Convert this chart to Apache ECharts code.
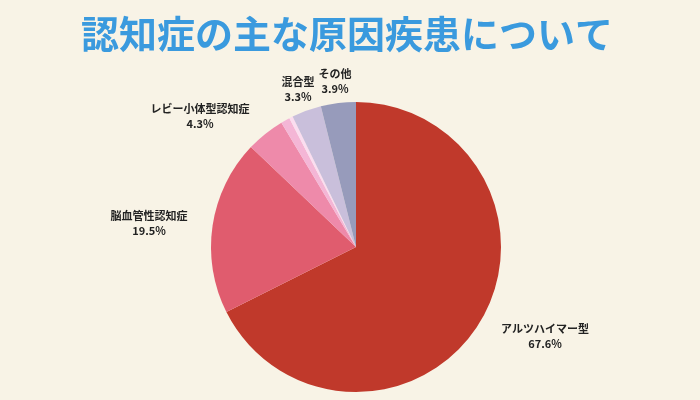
<!DOCTYPE html>
<html>
<head>
<meta charset="utf-8">
<script src="https://cdn.jsdelivr.net/npm/echarts@6/dist/echarts.min.js"></script>
<style>
  html, body { margin: 0; padding: 0; background: #f8f3e6; }
  #chart { width: 700px; height: 400px; }
</style>
</head>
<body>
<div id="chart"></div>
<script>
const categories = ['アルツハイマー型', '脳血管性認知症', 'レビー小体型認知症', '前頭側頭型認知症', 'アルコール性', '混合型', 'その他'];
const values = [67.6, 19.5, 4.3, 1.0, 0.4, 3.3, 3.9];
const colors = ['#c0392b', '#e05c6e', '#ee8aaa', '#f4b6d6', '#fbddf0', '#c9bfdb', '#979bbb'];
const showLabel = [true, true, true, false, false, true, true];
// label block centres (px), placed by hand like the original
const labelCenters = [[545, 336], [149, 223], [200, 116], null, null, [298, 89], [335, 81]];

let myChart = echarts.init(document.getElementById('chart'));

let data = categories.map(function (name, i) {
    return {
        name: name,
        value: values[i],
        itemStyle: { color: colors[i] },
        label: { show: showLabel[i] }
    };
});

let option = {
    backgroundColor: '#f8f3e6',
    animation: false,
    title: {
        text: '認知症の主な原因疾患について',
        left: 76,
        top: 10,
        textStyle: {
            color: '#3a9ade',
            fontSize: 38,
            fontWeight: 'bold',
            fontFamily: 'Noto Sans CJK JP'
        }
    },
    series: [{
        type: 'pie',
        center: [356, 247],
        radius: 145,
        startAngle: 90,
        clockwise: true,
        data: data,
        label: {
            position: 'outside',
            color: '#222',
            fontSize: 11,
            fontWeight: 'bold',
            lineHeight: 15,
            fontFamily: 'Noto Sans CJK JP',
            formatter: function (p) {
                return p.name + '\n' + p.value.toFixed(1) + '%';
            }
        },
        labelLine: { show: false },
        labelLayout: function (params) {
            let c = labelCenters[params.dataIndex];
            if (!c) return {};
            return { x: c[0], y: c[1], align: 'center', verticalAlign: 'middle' };
        }
    }]
};

myChart.setOption(option);
</script>
</body>
</html>
